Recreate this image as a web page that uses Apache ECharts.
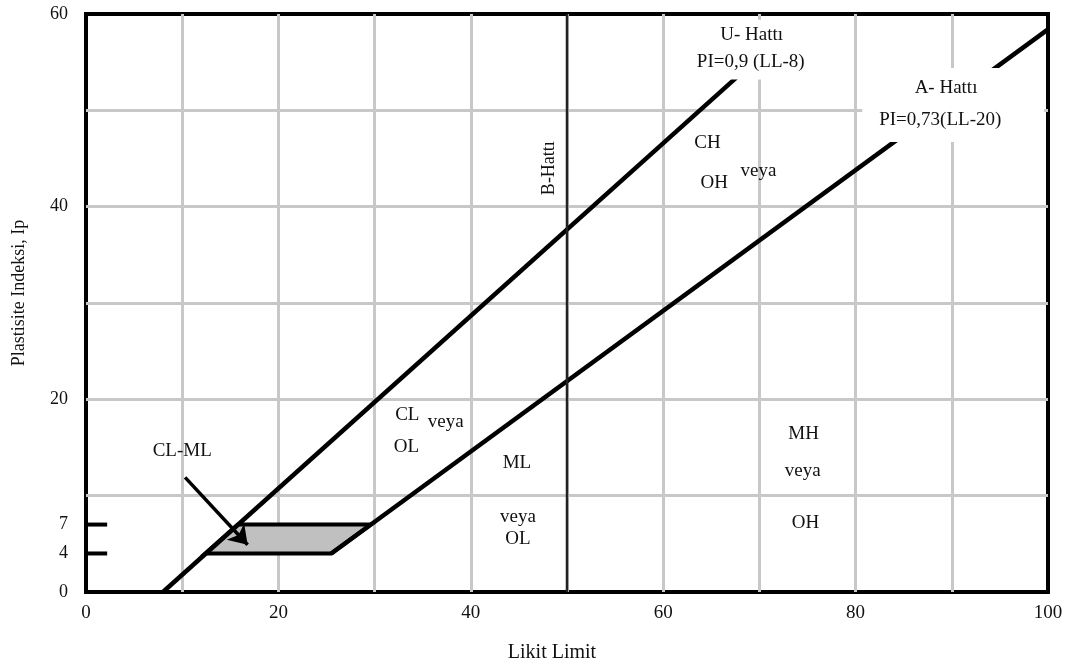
<!DOCTYPE html>
<html><head><meta charset="utf-8">
<script src="https://cdn.jsdelivr.net/npm/echarts@6/dist/echarts.min.js"></script>
<style>html,body{margin:0;padding:0;background:#fff}#c{width:1071px;height:671px}</style>
</head><body><div id="c"></div><script>
// ---- data ----
const xTickLabels = [0, 20, 40, 60, 80, 100];
const yTickLabels = [0, 4, 7, 20, 40, 60];
const uLine = [[8, 0], [67.6, 53.4]];            // PI = 0.9 (LL-8)
const aLine = [[25.5, 4], [100, 58.4]];          // PI = 0.73 (LL-20)
const bLine = [[50, 0], [50, 60]];               // LL = 50
const clmlZone = [[12.4, 4], [15.8, 7], [29.6, 7], [25.5, 4]];
const tick7 = [[0, 7], [2.2, 7]];
const tick4 = [[0, 4], [2.2, 4]];
const arrowLine = [[10.3, 11.9], [16.8, 4.9]];
const annoText = ['U- Hattı', 'PI=0,9 (LL-8)', 'A- Hattı', 'PI=0,73(LL-20)', 'CH', 'OH', 'veya',
  'CL', 'veya', 'OL', 'ML', 'veya', 'OL', 'MH', 'veya', 'OH', 'CL-ML'];
const annoLL = [69.2, 69.1, 89.4, 88.8, 64.6, 65.3, 69.9, 33.4, 37.4, 33.3, 44.8, 44.9, 44.9, 74.6, 74.5, 74.8, 10.0];
const annoPI = [57.8, 55.0, 52.3, 49.0, 46.6, 42.5, 43.7, 18.4, 17.6, 15.1, 13.4, 7.8, 5.5, 16.4, 12.6, 7.2, 14.6];
const bLabel = {text: 'B-Hattı', ll: 48.2, pi: 44.0};
// white label boxes [LL1, PI1, LL2, PI2]
const boxes = [[80.7, 54.4, 99.6, 46.7], [62.8, 59.4, 75.5, 53.2]];

const FONT = '"Liberation Serif", "Times New Roman", serif';
const chart = echarts.init(document.getElementById('c'));
const lineSeries = (data, w, color, z) => ({
  type: 'line', data, symbol: 'none', silent: true, z: z || 3,
  lineStyle: {color: color || '#000', width: w}
});
chart.setOption({
  animation: false,
  grid: {left: 86, right: 23, top: 14, bottom: 79, show: true, borderColor: '#000', borderWidth: 4, backgroundColor: '#fff'},
  xAxis: {
    type: 'value', min: 0, max: 100, interval: 10,
    axisLine: {show: false}, axisTick: {show: false},
    splitLine: {show: true, showMinLine: false, showMaxLine: false, lineStyle: {color: '#c8c8c8', width: 3}},
    axisLabel: {customValues: xTickLabels, margin: 12, color: '#111', fontFamily: FONT, fontSize: 19}
  },
  yAxis: {
    type: 'value', min: 0, max: 60, interval: 10,
    axisLine: {show: false}, axisTick: {show: false},
    splitLine: {show: true, showMinLine: false, showMaxLine: false, lineStyle: {color: '#c8c8c8', width: 3}},
    axisLabel: {customValues: yTickLabels, margin: 18, color: '#111', fontFamily: FONT, fontSize: 18}
  },
  series: [
    {
      type: 'custom', z: 2, silent: true,
      data: [0],
      renderItem: (params, api) => ({
        type: 'polygon',
        shape: {points: clmlZone.map(p => api.coord(p))},
        style: {fill: '#c0c0c0', stroke: '#000', lineWidth: 4, lineJoin: 'miter'}
      })
    },
    lineSeries(uLine, 4.5),
    lineSeries(aLine, 4.5),
    lineSeries(bLine, 2.5, '#222'),
    lineSeries(tick7, 4),
    lineSeries(tick4, 4),
    {
      type: 'lines', coordinateSystem: 'cartesian2d', z: 3, silent: true,
      symbol: ['none', 'arrow'], symbolSize: [12, 18],
      lineStyle: {color: '#000', width: 3.5, opacity: 1},
      data: [{coords: arrowLine}]
    }
  ]
});

function px(ll, pi) { return chart.convertToPixel({gridIndex: 0}, [ll, pi]); }
const graphics = [];
boxes.forEach(b => {
  const p1 = px(b[0], b[1]), p2 = px(b[2], b[3]);
  graphics.push({type: 'rect', z: 10, silent: true,
    shape: {x: p1[0], y: p1[1], width: p2[0] - p1[0], height: p2[1] - p1[1]},
    style: {fill: '#fff'}});
});
annoText.forEach((t, i) => {
  const p = px(annoLL[i], annoPI[i]);
  graphics.push({type: 'text', z: 20, silent: true, x: p[0], y: p[1],
    style: {text: t, font: '19px ' + FONT, fill: '#111', align: 'center', verticalAlign: 'middle'}});
});
const bp = px(bLabel.ll, bLabel.pi);
graphics.push({type: 'text', z: 20, silent: true, x: bp[0], y: bp[1], rotation: Math.PI / 2,
  style: {text: bLabel.text, font: '18px ' + FONT, fill: '#111', align: 'center', verticalAlign: 'middle',
    backgroundColor: '#fff', padding: [2, 3]}});
// axis names
graphics.push({type: 'text', z: 20, silent: true, x: 552, y: 653,
  style: {text: 'Likit Limit', font: '20px ' + FONT, fill: '#111', align: 'center', verticalAlign: 'middle'}});
graphics.push({type: 'text', z: 20, silent: true, x: 19, y: 293, rotation: Math.PI / 2,
  style: {text: 'Plastisite Indeksi, Ip', font: '18px ' + FONT, fill: '#111', align: 'center', verticalAlign: 'middle'}});
chart.setOption({graphic: graphics});
</script></body></html>
